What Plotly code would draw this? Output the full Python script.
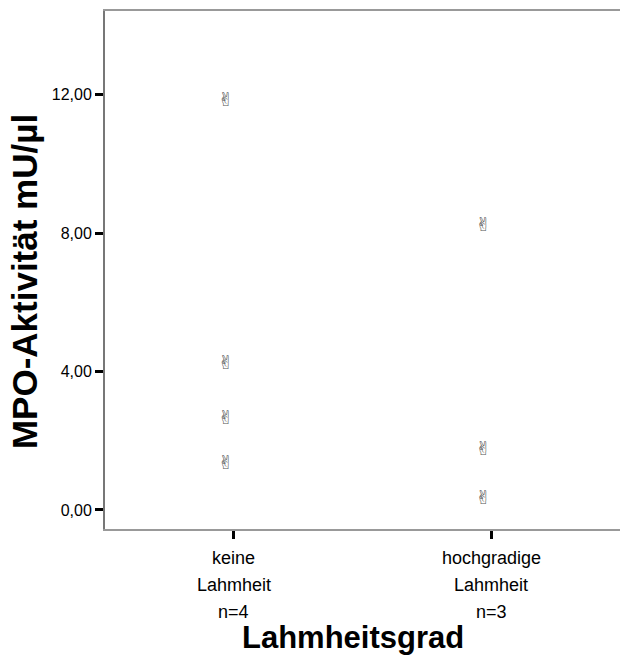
import plotly.graph_objects as go

categories = ["keine<br>Lahmheit<br>n=4", "hochgradige<br>Lahmheit<br>n=3"]
keine_values = [11.82, 4.22, 2.63, 1.33]
hoch_values = [8.21, 1.73, 0.32]
y_ticks = [0, 4, 8, 12]

xs = [categories[0]] * len(keine_values) + [categories[1]] * len(hoch_values)
ys = keine_values + hoch_values

fig = go.Figure()
fig.add_trace(go.Scatter(
    x=xs, y=ys, mode="text", text=["✌"] * len(ys),
    textposition="middle left",
    textfont=dict(family="DejaVu Sans", size=19, color="#555555"),
    showlegend=False, hoverinfo="y",
))

# category labels, one annotation per line for SPSS-like line spacing
for cat in categories:
    for i, line in enumerate(cat.split("<br>")):
        fig.add_annotation(
            x=cat, y=0, xref="x", yref="paper", text=line, showarrow=False,
            yanchor="middle", yshift=-(29 + 27 * i),
            font=dict(size=18, family="Liberation Sans, Arial, sans-serif"),
        )

fig.update_layout(
    width=620, height=659,
    margin=dict(l=105, r=0, t=11, b=130),
    paper_bgcolor="white", plot_bgcolor="white",
    separators=",.",
    font=dict(family="Liberation Sans, Arial, sans-serif", color="black"),
    xaxis=dict(
        type="category", categoryorder="array", categoryarray=categories,
        range=[-0.5, 1.5], showticklabels=False,
        showline=True, linecolor="#999999", linewidth=2, mirror=True,
        ticks="outside", ticklen=8, tickwidth=3, tickcolor="black",
        showgrid=False, zeroline=False,
    ),
    yaxis=dict(
        range=[-0.55, 14.42], tickvals=y_ticks, tickformat=".2f",
        showline=True, linecolor="#777777", linewidth=2, mirror=False,
        ticks="outside", ticklen=8, tickwidth=3, tickcolor="black",
        tickfont=dict(size=16), showgrid=False, zeroline=False,
    ),
)

fig.add_annotation(
    x=0.482, y=0, xref="paper", yref="paper", xanchor="center", yanchor="bottom",
    yshift=-128, text="<b>Lahmheitsgrad</b>", showarrow=False, font=dict(size=31),
)
fig.add_annotation(
    x=-0.155, y=0.477, xref="paper", yref="paper", xanchor="center", yanchor="middle",
    textangle=-90, text="<b>MPO-Aktivität mU/µl</b>", showarrow=False, font=dict(size=35),
)

fig.write_html("out.html")
